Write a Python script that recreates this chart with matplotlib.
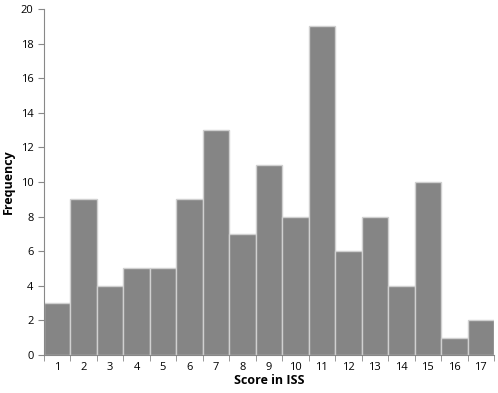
import matplotlib
matplotlib.use("Agg")
import matplotlib.pyplot as plt

scores = list(range(1, 18))
freq = [3, 9, 4, 5, 5, 9, 13, 7, 11, 8, 19, 6, 8, 4, 10, 1, 2]
yticks = list(range(0, 21, 2))

plt.rcParams['font.family'] = ['Open Sans', 'DejaVu Sans']
fig = plt.figure(figsize=(4.98, 3.93), dpi=100)
ax = fig.add_axes([0.088, 0.097, 0.904, 0.880])
ax.bar(scores, freq, width=1.0, color='#858585', edgecolor='#d0d0d0', linewidth=1.0)
ax.set_xlim(0.5, 17.5)
ax.set_ylim(0, 20)
ax.set_yticks(yticks)
ax.set_xticks(scores)
ax.set_xticks([s + 0.5 for s in [0] + scores], minor=True)
ax.tick_params(axis='x', which='major', length=0, labelsize=8, pad=5)
ax.tick_params(axis='x', which='minor', length=4, color='#888888', direction='out')
ax.tick_params(axis='y', length=4, color='#888888', labelsize=8)
for s in ['top', 'right']:
    ax.spines[s].set_visible(False)
for s in ['left', 'bottom']:
    ax.spines[s].set_color('#888888')
ax.set_xlabel('Score in ISS', fontsize=9, fontweight='bold', labelpad=1)
ax.set_ylabel('Frequency', fontsize=9, fontweight='bold', labelpad=4)
fig.savefig('out.png', dpi=100)
